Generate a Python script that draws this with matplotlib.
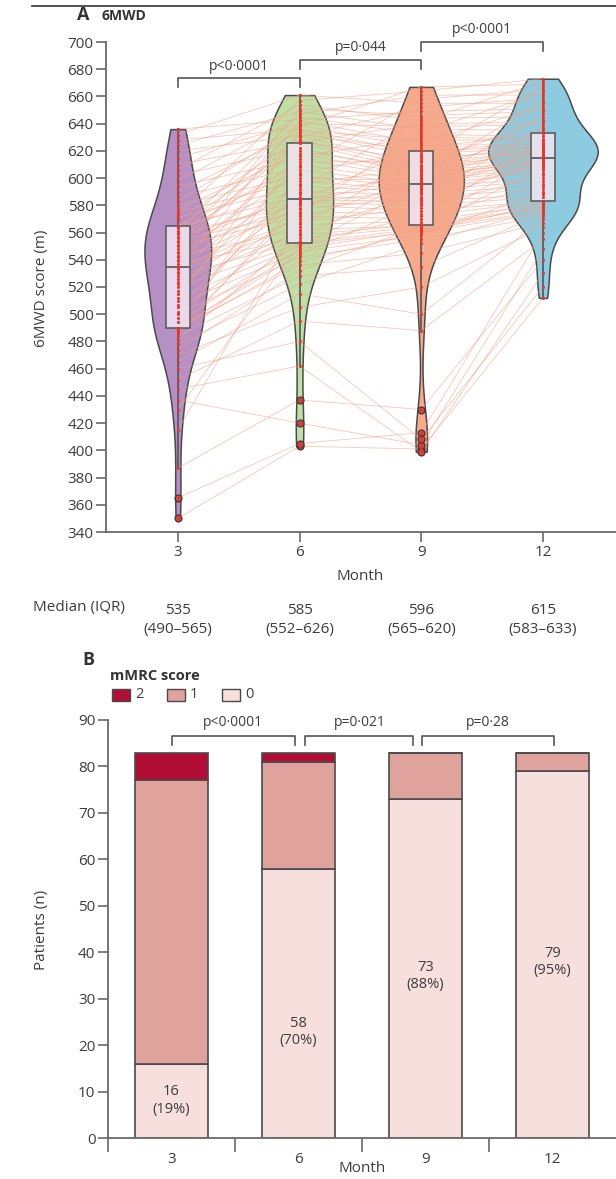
import numpy as np
import pandas as pd
import matplotlib
matplotlib.use("Agg")
import matplotlib.pyplot as plt
import seaborn as sns
from matplotlib.transforms import blended_transform_factory
from matplotlib.patches import Rectangle
from matplotlib.lines import Line2D

plt.rcParams['font.family'] = ['Open Sans', 'DejaVu Sans']

# ---- data ----
months = ["3", "6", "9", "12"]

# 6MWD (m) per patient, same patient order in every month
m3 = [350, 365, 387, 415, 430, 437, 445, 452, 460, 465,
      470, 474, 478, 481, 484, 486, 488, 489, 490, 490,
      490, 490, 494, 497, 500, 502, 505, 507, 510, 512,
      515, 517, 520, 522, 524, 526, 528, 530, 531, 533,
      534, 535, 537, 539, 540, 542, 543, 545, 546, 548,
      550, 551, 553, 554, 556, 557, 559, 560, 561, 563,
      564, 565, 565, 569, 571, 573, 575, 577, 580, 583,
      586, 590, 594, 598, 602, 606, 610, 615, 620, 624,
      628, 632, 636]
m6 = [403, 405, 437, 568, 551, 420, 462, 495, 480, 515,
      505, 532, 522, 558, 528, 583, 539, 548, 620, 536,
      577, 544, 552, 600, 542, 564, 590, 546, 635, 550,
      574, 610, 552, 581, 560, 628, 554, 585, 566, 642,
      570, 596, 556, 616, 578, 651, 562, 604, 582, 632,
      572, 588, 626, 575, 638, 584, 612, 580, 647, 592,
      626, 586, 606, 630, 594, 657, 598, 618, 602, 639,
      608, 634, 614, 645, 622, 654, 627, 640, 631, 649,
      636, 661, 643]
m9 = [401, 413, 430, 578, 561, 404, 399, 488, 408, 500,
      520, 565, 552, 566, 535, 624, 560, 562, 606, 545,
      586, 582, 563, 598, 555, 616, 588, 558, 628, 594,
      634, 597, 572, 592, 589, 608, 604, 596, 568, 626,
      599, 607, 564, 630, 609, 646, 565, 620, 580, 620,
      570, 602, 640, 574, 667, 583, 612, 576, 661, 644,
      605, 585, 595, 652, 590, 664, 591, 601, 593, 622,
      658, 615, 600, 632, 603, 642, 613, 638, 610, 636,
      618, 655, 649]
m12 = [512, 560, 540, 602, 580, 548, 530, 555, 520, 570,
       564, 582, 577, 618, 574, 625, 575, 576, 633, 567,
       592, 613, 608, 627, 572, 667, 610, 590, 628, 647,
       663, 606, 583, 616, 594, 621, 622, 620, 581, 653,
       607, 615, 578, 629, 617, 649, 579, 626, 586, 623,
       596, 657, 641, 624, 669, 588, 619, 583, 661, 645,
       612, 637, 604, 659, 621, 673, 598, 609, 600, 633,
       665, 620, 614, 631, 611, 671, 623, 639, 643, 635,
       622, 655, 651]

median_labels = ["535", "585", "596", "615"]
iqr_labels = ["(490–565)", "(552–626)", "(565–620)", "(583–633)"]
pvals_a = ["p<0·0001", "p=0·044", "p<0·0001"]

# mMRC score counts per month
mmrc_levels = ["2", "1", "0"]
mmrc_0 = [16, 58, 73, 79]
mmrc_1 = [61, 23, 10, 4]
mmrc_2 = [6, 2, 0, 0]
pvals_b = ["p<0·0001", "p=0·021", "p=0·28"]

# ---- style ----
violin_colors = ["#b68fc5", "#bfdfa7", "#f6ab8d", "#8dcbe0"]
mmrc_colors = {"2": "#b20e35", "1": "#dfa29d", "0": "#f7dfdd"}
dark = "#4a4a4a"
axis_col = "#6a6a6a"
txt = "#3d3d3d"

W, H = 616, 1179
fig = plt.figure(figsize=(W / 100, H / 100), dpi=100)


def fx(px):
    return px / W


def fy(py):
    return 1 - py / H


def style_axis(ax):
    for s in ["top", "right"]:
        ax.spines[s].set_visible(False)
    for s in ["left", "bottom"]:
        ax.spines[s].set_color(axis_col)
        ax.spines[s].set_linewidth(1.3)
    ax.tick_params(color=axis_col, width=1.2, length=7, labelsize=11,
                   labelcolor=txt, pad=2)


def bracket(ax, x0, x1, y, leg, label, ty):
    ax.plot([x0, x0, x1, x1], [y - leg, y, y, y - leg], color="#555555",
            lw=1.2, clip_on=False, zorder=6)
    ax.text((x0 + x1) / 2, ty, label, ha="center", va="center", fontsize=10,
            color=txt, clip_on=False)


# ---- panel A: violins ----
axA = fig.add_axes([fx(106), fy(532), fx(W - 106), (532 - 42) / H])
series = [m3, m6, m9, m12]
df = pd.DataFrame({"month": np.repeat(months, [len(s) for s in series]),
                   "value": np.concatenate(series)})
sns.violinplot(data=df, x="month", y="value", hue="month", order=months,
               hue_order=months, palette=violin_colors, legend=False, cut=0,
               density_norm="area", common_norm=True, inner=None, width=0.9,
               bw_adjust=0.85, linewidth=1.1, linecolor=dark, saturation=1, ax=axA)

for vals in zip(m3, m6, m9, m12):
    axA.plot(range(4), vals, color="#f3a28a", lw=0.6, alpha=0.6, zorder=2)

axA.boxplot(series, positions=range(4), widths=0.2, patch_artist=True,
            showcaps=False, whis=1.5, zorder=3,
            boxprops=dict(facecolor=(0.94, 0.9, 0.95, 0.85), edgecolor="#555555", linewidth=1.1),
            whiskerprops=dict(color="#555555", lw=1.2),
            medianprops=dict(color="#555555", lw=1.2),
            flierprops=dict(marker="o", ms=5, mfc="#d9463a", mec="#3a3a3a", mew=0.9))

for i, vals in enumerate(series):
    axA.scatter(np.full(len(vals), i), vals, s=5, color="#e8352b",
                linewidths=0, zorder=4)

axA.set_xlim(-0.59, 3.6)
axA.set_ylim(340, 700)
axA.set_yticks(range(340, 701, 20))
axA.set_xticks(range(4))
axA.set_xticklabels(months)
axA.set_xlabel("")
axA.set_ylabel("")
style_axis(axA)

bracket(axA, 0, 1, 673.5, 6.5, pvals_a[0], 682)
bracket(axA, 1, 2, 686.8, 6.5, pvals_a[1], 696)
bracket(axA, 2, 3, 700, 6.5, pvals_a[2], 709)

fig.text(fx(41), fy(288), "6MWD score (m)", rotation=90, ha="center",
         va="center", fontsize=11, color=txt)
fig.text(fx(360), fy(577), "Month", ha="center", va="center", fontsize=11, color=txt)

trans = blended_transform_factory(axA.transData, fig.transFigure)
fig.text(fx(33), fy(608), "Median (IQR)", ha="left", va="center", fontsize=11, color=txt)
for i in range(4):
    axA.text(i, fy(611), median_labels[i], transform=trans, ha="center",
             va="center", fontsize=11, color=txt)
    axA.text(i, fy(630), iqr_labels[i], transform=trans, ha="center",
             va="center", fontsize=11, color=txt)

# header
fig.add_artist(Line2D([fx(32), 1], [fy(6), fy(6)], color="#333333", lw=1.2))
fig.text(fx(77), fy(15), "A", fontsize=13, weight="bold", va="center", color="#333333")
fig.text(fx(101), fy(16), "6MWD", fontsize=10, weight="bold", va="center", color="#333333")

# ---- panel B: stacked bars ----
axB = fig.add_axes([fx(108), fy(1138), fx(W - 108), (1138 - 720) / H])
x = np.arange(4)
bar_w = 0.575
bottom = np.zeros(4)
for lvl, counts in zip(["0", "1", "2"], [mmrc_0, mmrc_1, mmrc_2]):
    axB.bar(x, counts, bottom=bottom, width=bar_w, color=mmrc_colors[lvl],
            edgecolor=dark, linewidth=1.2, zorder=2)
    bottom = bottom + np.array(counts)

total = bottom
label_y = [8, 22.8, 34.9, 37.9]
for i, n in enumerate(mmrc_0):
    axB.text(i, label_y[i], f"{n}\n({round(100 * n / total[i])}%)", ha="center",
             va="center", fontsize=10.5, color=txt, linespacing=1.25)

axB.set_xlim(-0.5, 3.5)
axB.set_ylim(0, 90)
axB.set_yticks(range(0, 91, 10))
axB.set_xticks(x)
axB.set_xticklabels(months)
axB.set_xticks([-0.5, 0.5, 1.5, 2.5], minor=True)
style_axis(axB)
axB.tick_params(axis="x", which="major", length=0, pad=10)
axB.tick_params(axis="x", which="minor", length=10, width=1.2, color=axis_col)

bracket(axB, 0.0, 0.975, 86.6, 2.0, pvals_b[0], 89.4)
bracket(axB, 1.055, 1.905, 86.6, 2.0, pvals_b[1], 89.4)
bracket(axB, 1.975, 3.01, 86.6, 2.0, pvals_b[2], 89.4)

fig.text(fx(41), fy(930), "Patients (n)", rotation=90, ha="center",
         va="center", fontsize=11, color=txt)
fig.text(fx(362), fy(1168), "Month", ha="center", va="center", fontsize=11, color=txt)

fig.text(fx(82), fy(660), "B", fontsize=13, weight="bold", va="center", color="#333333")
fig.text(fx(110), fy(676), "mMRC score", fontsize=10.5, weight="bold", va="center", color="#333333")
for k, lvl in enumerate(mmrc_levels):
    x0 = 112 + 55 * k
    fig.add_artist(Rectangle((fx(x0), fy(701)), fx(18), 12 / H, transform=fig.transFigure,
                             facecolor=mmrc_colors[lvl], edgecolor=dark, linewidth=1.0))
    fig.text(fx(x0 + 23), fy(695), lvl, fontsize=10.5, va="center", color=txt)

fig.savefig("out.png", dpi=100)
